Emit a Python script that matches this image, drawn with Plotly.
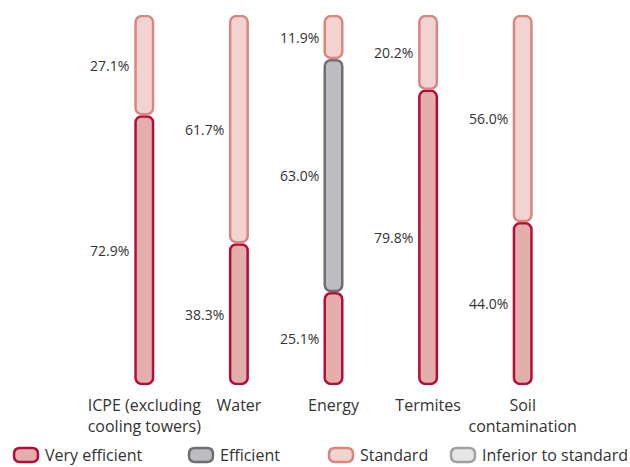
import plotly.graph_objects as go

# Share of sites per rating level, stacked bottom to top
categories = ["ICPE (excluding<br>cooling towers)", "Water", "Energy", "Termites", "Soil<br>contamination"]
very_efficient = [72.9, 38.3, 25.1, 79.8, 44.0]
efficient = [0.0, 0.0, 63.0, 0.0, 0.0]
standard = [27.1, 61.7, 11.9, 20.2, 56.0]
inferior_to_standard = [0.0, 0.0, 0.0, 0.0, 0.0]

series_names = ["Very efficient", "Efficient", "Standard", "Inferior to standard"]
series_values = [very_efficient, efficient, standard, inferior_to_standard]

# fill / outline per level
fills = ["#E4AEAA", "#BCBDC1", "#F2D3D0", "#E6E6E8"]
outlines = ["#B50D3A", "#6D6E72", "#DA8580", "#A0A0A3"]

FONT = "Open Sans"
TEXT = "#333333"
BAR_W = 0.185        # bar width in category units
LINE_W = 2.5
RADIUS = 6
GAP = 0.3            # half gap between stacked segments (value units)

W, H = 630, 467
ML, MR, MT, MB = 97, 60, 15, 82
PW = W - ML - MR
PH = H - MT - MB

fig = go.Figure()
annotations = []

base = [0.0] * len(categories)
for name, vals, fc, lc in zip(series_names, series_values, fills, outlines):
    xs, los, heights = [], [], []
    for i, v in enumerate(vals):
        if v > 0:
            xs.append(categories[i])
            los.append(base[i] + GAP)
            heights.append(v - 2 * GAP)
            annotations.append(dict(
                x=categories[i], y=base[i] + v / 2, xref="x", yref="y",
                text=f"{v:.1f}%", showarrow=False, xanchor="right",
                xshift=-13, font=dict(family=FONT, size=14, color=TEXT)))
        base[i] += v
    if not xs:
        continue
    fig.add_trace(go.Bar(x=xs, y=heights, base=los, width=BAR_W, name=name,
                         hoverinfo="skip", showlegend=False,
                         marker=dict(color=fc, cornerradius=RADIUS,
                                     line=dict(color=lc, width=LINE_W))))

# legend built from rounded swatches and labels
legend_swatch_x = [26, 201, 341, 463]
legend_text_x = [43, 218, 358, 480]
legend_y = 455
shapes = []
sw, sh, r = 24, 14, 6
path = (f"M{-sw/2 + r},{-sh/2} L{sw/2 - r},{-sh/2} Q{sw/2},{-sh/2} {sw/2},{-sh/2 + r} "
        f"L{sw/2},{sh/2 - r} Q{sw/2},{sh/2} {sw/2 - r},{sh/2} L{-sw/2 + r},{sh/2} "
        f"Q{-sw/2},{sh/2} {-sw/2},{sh/2 - r} L{-sw/2},{-sh/2 + r} Q{-sw/2},{-sh/2} {-sw/2 + r},{-sh/2} Z")
for name, fc, lc, sx, tx in zip(series_names, fills, outlines, legend_swatch_x, legend_text_x):
    shapes.append(dict(type="path", xref="paper", yref="paper",
                       xsizemode="pixel", ysizemode="pixel",
                       xanchor=(sx - ML) / PW, yanchor=(H - MB - legend_y) / PH,
                       path=path, fillcolor=fc, line=dict(color=lc, width=LINE_W)))
    annotations.append(dict(x=(tx - ML) / PW, y=(H - MB - legend_y) / PH,
                            xref="paper", yref="paper", text=name, showarrow=False,
                            xanchor="left", yanchor="middle",
                            font=dict(family=FONT, size=16, color=TEXT)))

fig.update_layout(
    width=W, height=H,
    margin=dict(l=ML, r=MR, t=MT, b=MB),
    barmode="overlay",
    plot_bgcolor="white", paper_bgcolor="white",
    showlegend=False,
    xaxis=dict(type="category", categoryorder="array", categoryarray=categories,
               range=[-0.5, len(categories) - 0.5], showgrid=False, zeroline=False,
               showline=False, ticks="outside", ticklen=6, tickcolor="rgba(0,0,0,0)",
               tickfont=dict(family=FONT, size=16, color=TEXT)),
    yaxis=dict(range=[0, 100], visible=False, fixedrange=True),
    shapes=shapes,
    annotations=annotations,
)

fig.write_html("out.html")
